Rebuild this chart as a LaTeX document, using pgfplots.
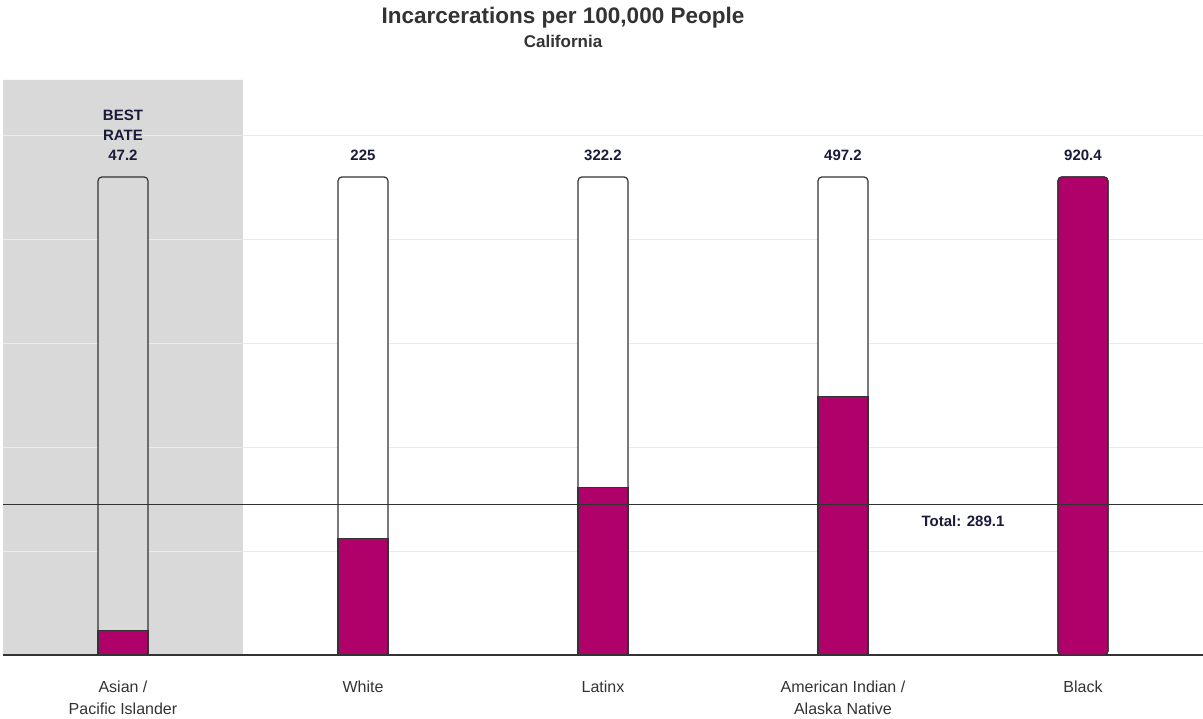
\documentclass[border=0pt]{standalone}
\usepackage{pgfplots}
\pgfplotsset{compat=1.18}
\usepackage{fontspec}
\setmainfont{Liberation Sans}
\definecolor{fillc}{HTML}{B0006A}
\definecolor{bandc}{HTML}{D9D9D9}
\definecolor{gridc}{HTML}{EBEBEB}
\definecolor{labc}{HTML}{1A1A3A}
\definecolor{txtc}{HTML}{333333}
\definecolor{linec}{HTML}{333333}
\begin{document}
\begin{tikzpicture}
\begin{axis}[
  at={(0,0)}, anchor=south west,
  set layers,
  scale only axis, width=1200pt, height=575pt,
  xmin=-0.5, xmax=4.5, ymin=0, ymax=1107,
  axis x line=bottom, axis y line=left,
  x axis line style={-, draw=linec, line width=1.2pt},
  y axis line style={draw=none},
  xtick={0,1,2,3,4},
  xticklabels={{Asian /\\Pacific Islander},White,Latinx,{American Indian /\\Alaska Native},Black},
  xticklabel style={align=center, anchor=north, inner sep=0pt, yshift=-26pt,
    font=\fontsize{16}{21.5}\selectfont, text=txtc},
  ytick={200,400,600,800,1000}, yticklabels={},
  major tick length=0pt,
  ymajorgrids, grid style={gridc, line width=1.2pt},
  clip=false,
]
% highlighted category band
\addplot[on layer=axis background, fill=bandc, draw=none]
  coordinates {(-0.5,0)(-0.5,1107)(0.5,1107)(0.5,0)} \closedcycle;
% outline (max) bars
\addplot[ybar, bar width=50pt, bar shift=0pt, fill=bandc, draw=linec, line width=1.2pt,
  rounded corners=4pt,
  nodes near coords, point meta=explicit symbolic,
  every node near coord/.append style={anchor=south, inner sep=0pt, yshift=16pt,
    align=center, font=\bfseries\fontsize{15}{20}\selectfont, text=labc}]
  coordinates {(0,920.4)[BEST\\RATE\\47.2]};
\addplot[ybar, bar width=50pt, bar shift=0pt, fill=white, draw=linec, line width=1.2pt,
  rounded corners=4pt,
  nodes near coords, point meta=explicit symbolic,
  every node near coord/.append style={anchor=south, inner sep=0pt, yshift=16pt,
    align=center, font=\bfseries\fontsize{15}{20}\selectfont, text=labc}]
  coordinates {(1,920.4)[225] (2,920.4)[322.2] (3,920.4)[497.2] (4,920.4)[920.4]};
% actual rates
\addplot[ybar, bar width=50pt, bar shift=0pt, fill=fillc, draw=linec, line width=1.2pt,
  rounded corners=0pt]
  coordinates {(0,47.2) (1,225) (2,322.2) (3,497.2)};
\addplot[ybar, bar width=50pt, bar shift=0pt, fill=fillc, draw=linec, line width=1.2pt,
  rounded corners=4pt]
  coordinates {(4,920.4)};
% total line
\addplot[linec, line width=1.1pt] coordinates {(-0.5,289.1) (4.5,289.1)};
\addplot[draw=none, nodes near coords, point meta=explicit symbolic,
  every node near coord/.append style={anchor=base, inner sep=0pt, yshift=-22pt,
    font=\bfseries\fontsize{15}{20}\selectfont, text=labc}]
  coordinates {(3.5,289.1)[Total: 289.1]};
\end{axis}
\node[anchor=base, font=\bfseries\fontsize{22.5}{26}\selectfont, text=txtc] at (560pt,631pt) {Incarcerations per 100,000 People};
\node[anchor=base, font=\bfseries\fontsize{17}{20}\selectfont, text=txtc] at (560pt,607pt) {California};
\pgfresetboundingbox
\path (-3pt,-64pt) rectangle (1200pt,655pt);
\end{tikzpicture}
\end{document}
